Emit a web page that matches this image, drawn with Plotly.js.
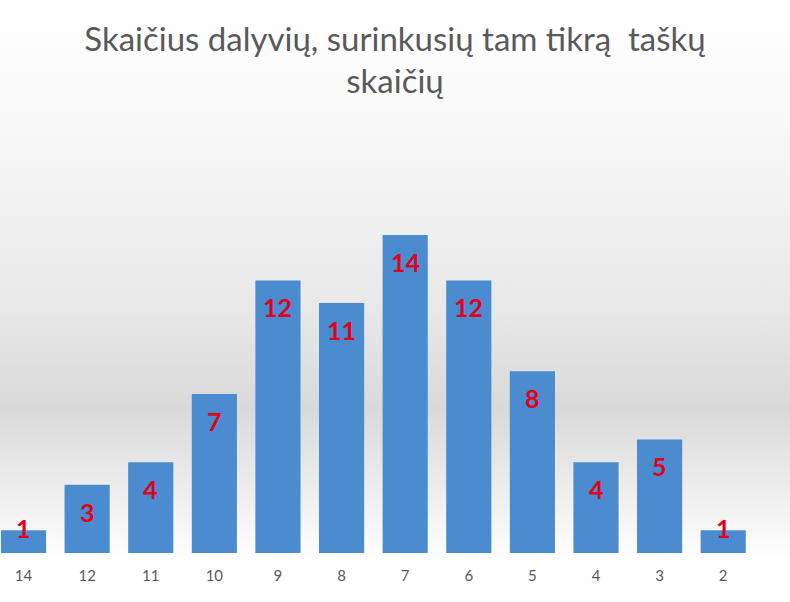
<!DOCTYPE html>
<html>
<head>
<meta charset="utf-8">
<script src="https://cdn.plot.ly/plotly-3.0.1.min.js"></script>
<style>
  html, body { margin: 0; padding: 0; }
  #chart {
    width: 790px;
    height: 602px;
    background: linear-gradient(to bottom,
      #ffffff 0%, #f9f9f9 20%, #e9e9e9 50%, #d9d9d9 68%, #eeeeee 82%, #ffffff 93%, #ffffff 100%);
  }
</style>
</head>
<body>
<div id="chart"></div>
<script>
// points scored (category order as in the original chart)
const points = ["14", "12", "11", "10", "9", "8", "7", "6", "5", "4", "3", "2"];
// number of participants with that score
const participants = [1, 3, 4, 7, 12, 11, 14, 12, 8, 4, 5, 1];

const trace = {
  x: points,
  y: participants,
  type: "bar",
  marker: { color: "#4a8ccf" },
  hoverinfo: "x+y",
};

// value labels sit inside the top of each bar, short bars get them at the top edge
// (x given as category index, numeric-looking strings would be read as positions)
const labels = points.map((p, i) => ({
  x: i,
  y: participants[i],
  text: String(participants[i]),
  showarrow: false,
  yanchor: "middle",
  yshift: participants[i] > 1 ? -27 : 2,
  font: { family: "Lato, 'Open Sans', sans-serif", size: 25, color: "#e2001a", weight: "bold" },
}));

const layout = {
  width: 790,
  height: 602,
  title: {
    text: "Skaičius dalyvių, surinkusių tam tikrą  taškų<br>skaičių",
    font: { family: "Lato, 'Open Sans', sans-serif", size: 33, color: "#595959" },
    x: 0.5,
    xanchor: "center",
    y: 0.916,
    yanchor: "top",
  },
  xaxis: {
    type: "category",
    range: [-0.37, 12.05],
    showgrid: false,
    zeroline: false,
    showline: false,
    ticks: "",
    ticklabelstandoff: 12,
    tickfont: { family: "Lato, 'Open Sans', sans-serif", size: 15, color: "#595959" },
    fixedrange: true,
  },
  yaxis: {
    range: [0, 19.94],
    visible: false,
    showgrid: false,
    zeroline: false,
    fixedrange: true,
  },
  bargap: 0.29,
  annotations: labels,
  showlegend: false,
  margin: { l: 0, r: 0, t: 100, b: 49 },
  plot_bgcolor: "rgba(0,0,0,0)",
  paper_bgcolor: "rgba(0,0,0,0)",
};

const config = { displayModeBar: false, responsive: false };

Plotly.newPlot("chart", [trace], layout, config);
</script>
</body>
</html>
